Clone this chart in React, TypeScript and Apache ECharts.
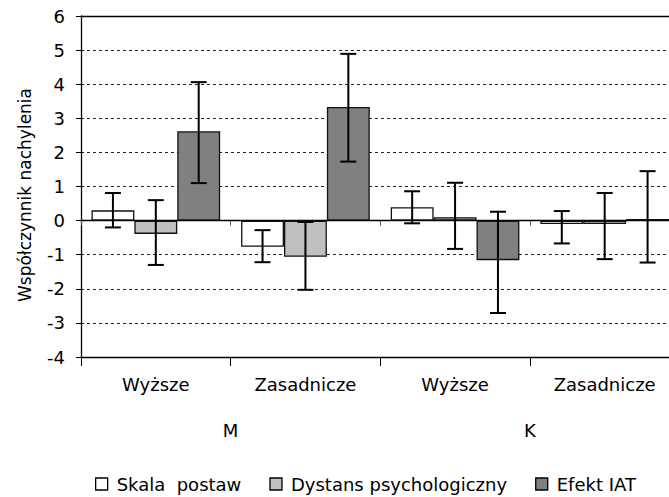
import React, { useEffect, useRef } from "react";
import * as echarts from "echarts";

const categories = ["Wyższe", "Zasadnicze", "Wyższe", "Zasadnicze"];
const groups = ["M", "K"];
const seriesNames = ["Skala  postaw", "Dystans psychologiczny", "Efekt IAT"];
const skala = [0.3, -0.77, 0.39, -0.1];
const dystans = [-0.39, -1.06, 0.1, -0.1];
const iat = [2.62, 3.33, -1.16, 0.05];
const skalaErr = [[-0.2, 0.81], [-1.22, -0.28], [-0.08, 0.86], [-0.67, 0.28]];
const dystansErr = [[-1.3, 0.6], [-2.03, -0.04], [-0.83, 1.11], [-1.13, 0.81]];
const iatErr = [[1.1, 4.06], [1.73, 4.89], [-2.71, 0.26], [-1.23, 1.45]];
const yTicks = [-4, 6];
const colors = ["#ffffff", "#c0c0c0", "#808080"];

const FONT = "DejaVu Sans";
const FS = 18;
const CAT_GAP = 0.14;

export default function App() {
  const ref = useRef<HTMLDivElement>(null);
  useEffect(() => {
    if (!ref.current) return;
    const chart = echarts.init(ref.current, undefined, { renderer: "svg" });
    const values = [skala, dystans, iat];
    const errs = [skalaErr, dystansErr, iatErr];
    const errData: any[] = [];
    errs.forEach((e, s) => e.forEach((lh, c) => errData.push([c, lh[0], lh[1], s])));

    const bars = values.map((v, i) => ({
      type: "bar",
      name: seriesNames[i],
      xAxisIndex: 0,
      data: v,
      barGap: "0%",
      barCategoryGap: (CAT_GAP * 100) + "%",
      itemStyle: { color: colors[i], borderColor: "#111", borderWidth: 1.3 },
      emphasis: { disabled: true },
    }));

    chart.setOption({
      animation: false,
      textStyle: { fontFamily: FONT },
      grid: { left: 81, top: 16, width: 598.5, height: 341, outerBoundsMode: "none", containLabel: false },
      legend: {
        data: seriesNames,
        left: 90,
        top: 470,
        icon: "rect",
        itemWidth: 12,
        itemHeight: 12,
        itemGap: 28,
        textStyle: { fontFamily: FONT, fontSize: FS, color: "#000", padding: [0, 0, 0, 4] },
        itemStyle: { borderColor: "#000", borderWidth: 1.3 },
      },
      xAxis: [
        {
          type: "category",
          data: categories,
          position: "bottom",
          axisLine: { onZero: true, lineStyle: { color: "#000", width: 1.3 } },
          axisTick: { show: true, length: 5, lineStyle: { color: "#555" } },
          axisLabel: { show: false },
        },
        {
          type: "category",
          data: categories,
          position: "bottom",
          axisLine: { onZero: false, lineStyle: { color: "#000", width: 1.3 } },
          axisTick: { show: true, length: 9, lineStyle: { color: "#000" } },
          axisLabel: { show: true, margin: 18, fontSize: FS, color: "#000", fontFamily: FONT, interval: 0 },
        },
        {
          type: "category",
          data: groups,
          position: "bottom",
          axisLine: { show: false, onZero: false },
          axisTick: { show: false },
          axisLabel: { show: true, margin: 64, fontSize: FS, color: "#000", fontFamily: FONT, interval: 0 },
        },
        {
          type: "category",
          data: categories,
          position: "top",
          axisLine: { show: true, onZero: false, lineStyle: { color: "#000", width: 1.3 } },
          axisTick: { show: false },
          axisLabel: { show: false },
        },
      ],
      yAxis: {
        type: "value",
        min: yTicks[0],
        max: yTicks[1],
        interval: 1,
        name: "Współczynnik nachylenia",
        nameLocation: "middle",
        nameGap: 48,
        nameTextStyle: { fontSize: 17, color: "#000", fontFamily: FONT, padding: [0, 17, 0, 0] },
        axisLine: { show: true, lineStyle: { color: "#000", width: 1.3 } },
        axisTick: { show: true, length: 5, lineStyle: { color: "#000" } },
        axisLabel: { fontSize: FS, color: "#000", margin: 16, fontFamily: FONT },
        splitLine: { show: true, lineStyle: { color: "#222", type: [3, 3], width: 1 } },
      },
      series: [
        ...bars,
        {
          type: "custom",
          name: "err",
          xAxisIndex: 0,
          data: errData,
          encode: { x: 0, y: [1, 2] },
          z: 10,
          renderItem: (params: any, api: any) => {
            const c = api.value(0);
            const lo = api.value(1);
            const hi = api.value(2);
            const s = api.value(3);
            const catW = api.size([1, 0])[0];
            const barW = (catW * (1 - CAT_GAP)) / 3;
            const center = api.coord([c, 0])[0] + (s - 1) * barW;
            const yLo = api.coord([c, lo])[1];
            const yHi = api.coord([c, hi])[1];
            const hw = 8;
            const style = { stroke: "#000", lineWidth: 2, fill: "none" };
            return {
              type: "group",
              children: [
                { type: "line", shape: { x1: center, y1: yLo, x2: center, y2: yHi }, style },
                { type: "line", shape: { x1: center - hw, y1: yLo, x2: center + hw, y2: yLo }, style },
                { type: "line", shape: { x1: center - hw, y1: yHi, x2: center + hw, y2: yHi }, style },
              ],
            };
          },
        },
      ],
    });
    return () => chart.dispose();
  }, []);
  return <div ref={ref} style={{ width: 669, height: 497, position: "absolute", left: 0, top: 0 }} />;
}
